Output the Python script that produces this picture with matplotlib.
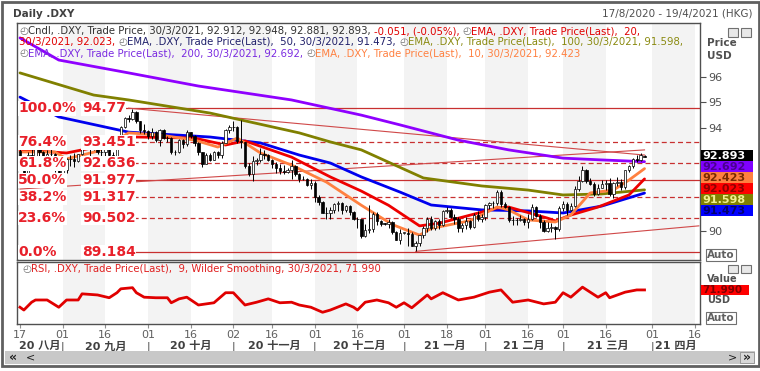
import numpy as np
import pandas as pd
import matplotlib
matplotlib.use("Agg")
import matplotlib.pyplot as plt
from matplotlib.patches import Rectangle
from matplotlib.transforms import blended_transform_factory as btf

plt.rcParams['font.family'] = ['DejaVu Sans', 'Noto Sans CJK SC']

# ---------------- data ----------------
start_date, end_date = "2020-08-17", "2021-04-19"

opens = [93.10, 92.84, 92.25, 92.95, 92.80, 93.24, 93.06, 92.90, 93.00, 92.98, 92.37,
         92.14, 92.35, 92.80, 92.78, 92.72, 92.98, 93.42, 93.26, 93.35, 93.33, 93.05, 93.05, 93.17, 92.96, 92.93, 93.65, 94.03, 94.39, 94.35, 94.64, 94.28, 93.92,
         93.89, 93.69, 93.84, 93.54, 93.93, 93.63, 93.60, 93.05, 93.06, 93.53, 93.38, 93.83, 93.70, 93.43, 93.06, 92.60, 92.97, 92.77, 93.05, 92.94, 93.43, 93.92,
         94.04, 94.02, 93.50, 93.44, 92.52, 92.23, 92.72, 92.76, 93.00, 92.96, 92.76, 92.60, 92.43, 92.32, 92.29, 92.37, 92.51, 92.21, 92.01, 92.01, 91.79,
         91.87, 91.32, 91.11, 90.71, 90.70, 90.80, 91.06, 91.10, 90.80, 90.98, 90.73, 90.47, 90.45, 89.82, 90.02, 90.06, 90.67, 90.37, 90.29, 90.28, 90.34, 89.96, 89.66,
         89.94, 89.94, 89.88, 89.43, 89.53, 89.83, 90.10, 90.47, 90.11, 90.39, 90.24, 90.77, 90.80, 90.53, 90.47, 90.11, 90.23, 90.37, 90.14, 90.63, 90.45,
         90.55, 91.00, 91.07, 91.09, 91.52, 91.04, 90.94, 90.43, 90.43, 90.43, 90.47, 90.34, 90.48, 90.93, 90.59, 90.36, 90.01, 90.13, 90.17, 90.06,
         90.88, 91.06, 90.81, 90.97, 91.64, 91.94, 92.35, 91.95, 91.82, 91.44, 91.67, 91.84, 91.86, 91.43, 91.86, 91.92, 91.69, 92.35, 92.52, 92.81, 92.77, 92.912]
highs = [93.20, 92.91, 93.05, 93.17, 93.36, 93.25, 93.12, 93.14, 93.33, 93.03, 92.43,
         92.43, 92.85, 92.95, 93.03, 93.00, 93.45, 93.50, 93.44, 93.42, 93.38, 93.25, 93.19, 93.36, 93.07, 93.74, 94.08, 94.44, 94.51, 94.74, 94.66, 94.28, 94.16,
         93.93, 94.01, 93.87, 93.95, 93.98, 93.70, 93.66, 93.16, 93.59, 93.56, 93.93, 93.86, 93.74, 93.47, 93.07, 93.02, 93.02, 93.10, 93.12, 93.50, 93.98, 94.13,
         94.26, 94.07, 94.30, 93.47, 92.65, 92.93, 92.84, 93.21, 93.13, 93.00, 92.81, 92.67, 92.62, 92.57, 92.45, 92.74, 92.58, 92.26, 92.12, 92.06, 92.02,
         91.95, 91.41, 91.16, 90.95, 90.94, 91.09, 91.16, 91.13, 91.02, 91.02, 90.79, 90.53, 90.45, 90.28, 91.01, 90.73, 90.73, 90.44, 90.31, 90.46, 90.38, 90.00, 90.06,
         89.96, 90.10, 89.97, 89.62, 89.85, 90.18, 90.56, 90.59, 90.43, 90.45, 90.83, 90.95, 90.89, 90.65, 90.55, 90.30, 90.56, 90.44, 90.70, 90.77, 90.65,
         91.05, 91.13, 91.16, 91.60, 91.60, 91.11, 90.96, 90.58, 90.49, 90.62, 90.51, 90.65, 91.05, 90.98, 90.65, 90.41, 90.34, 90.33, 90.19, 90.99,
         91.15, 91.12, 91.07, 91.73, 92.14, 92.51, 92.41, 92.06, 91.91, 91.84, 91.98, 91.97, 92.07, 91.91, 92.10, 92.03, 92.37, 92.56, 92.84, 92.94, 93.02, 92.948]
lows = [92.77, 92.13, 92.15, 92.52, 92.53, 92.85, 92.72, 92.68, 92.49, 92.29, 92.05,
        91.75, 92.25, 92.54, 92.48, 92.68, 92.95, 93.18, 92.84, 93.13, 92.99, 92.90, 92.70, 92.80, 92.72, 92.79, 93.57, 94.00, 94.22, 94.33, 94.20, 93.79, 93.78,
        93.56, 93.58, 93.47, 93.30, 93.58, 93.46, 92.99, 92.97, 93.01, 93.23, 93.29, 93.60, 93.31, 92.96, 92.47, 92.59, 92.70, 92.77, 92.85, 92.85, 93.41, 93.80,
        93.90, 93.42, 93.24, 92.44, 92.13, 91.96, 92.56, 92.69, 92.81, 92.70, 92.43, 92.26, 92.20, 92.22, 92.26, 92.01, 92.13, 91.92, 91.98, 91.76, 91.62,
        91.12, 91.00, 90.69, 90.48, 90.48, 90.68, 90.79, 90.66, 90.73, 90.62, 90.42, 90.11, 89.72, 89.78, 89.92, 89.95, 90.22, 90.21, 90.25, 90.13, 89.88, 89.64, 89.51,
        89.90, 89.42, 89.40, 89.21, 89.41, 89.73, 89.96, 90.02, 90.03, 90.06, 90.21, 90.68, 90.50, 90.27, 89.96, 89.97, 90.08, 90.06, 90.11, 90.40, 90.34,
        90.42, 90.86, 90.88, 91.02, 90.92, 90.88, 90.36, 90.25, 90.25, 90.39, 90.24, 90.12, 90.44, 90.53, 90.13, 89.98, 89.96, 89.98, 89.68, 89.99,
        90.79, 90.63, 90.78, 90.92, 91.54, 91.90, 91.88, 91.77, 91.36, 91.38, 91.66, 91.61, 91.35, 91.30, 91.74, 91.60, 91.64, 92.28, 92.46, 92.69, 92.71, 92.881]
closes = [92.84, 92.25, 92.95, 92.80, 93.24, 93.06, 92.90, 93.00, 92.98, 92.37, 92.14,
          92.35, 92.80, 92.78, 92.72, 92.98, 93.42, 93.26, 93.35, 93.33, 93.05, 93.05, 93.17, 92.96, 92.93, 93.65, 94.03, 94.39, 94.35, 94.64, 94.28, 93.92, 93.89,
          93.69, 93.84, 93.54, 93.93, 93.63, 93.60, 93.05, 93.06, 93.53, 93.38, 93.83, 93.70, 93.43, 93.06, 92.60, 92.97, 92.77, 93.05, 92.94, 93.43, 93.92, 94.04,
          94.02, 93.50, 93.44, 92.52, 92.23, 92.72, 92.76, 93.00, 92.96, 92.76, 92.60, 92.43, 92.32, 92.29, 92.37, 92.51, 92.21, 92.01, 92.01, 91.79, 91.87,
          91.32, 91.11, 90.71, 90.70, 90.80, 91.06, 91.10, 90.80, 90.98, 90.73, 90.47, 90.45, 89.82, 90.02, 90.06, 90.67, 90.37, 90.29, 90.28, 90.34, 89.96, 89.66, 89.94,
          89.94, 89.88, 89.43, 89.53, 89.83, 90.10, 90.47, 90.11, 90.39, 90.24, 90.77, 90.80, 90.53, 90.47, 90.11, 90.23, 90.37, 90.14, 90.63, 90.45, 90.55,
          91.00, 91.07, 91.09, 91.52, 91.04, 90.94, 90.43, 90.43, 90.43, 90.47, 90.34, 90.48, 90.93, 90.59, 90.36, 90.01, 90.13, 90.17, 90.06, 90.88,
          91.06, 90.81, 90.97, 91.64, 91.94, 92.35, 91.95, 91.82, 91.44, 91.67, 91.84, 91.86, 91.43, 91.86, 91.92, 91.69, 92.35, 92.52, 92.81, 92.77, 92.944, 92.893]

# EMA curves (trading-day number, value)
ema10_day = [0, 9, 12, 20, 28, 36, 45, 51, 56, 62, 70, 79, 88, 96, 103, 106, 116, 123, 126, 131, 138, 142, 147, 153, 157, 161]
ema10_val = [93.07, 93.07, 92.80, 93.10, 93.81, 93.73, 93.53, 93.26, 93.61, 93.03, 92.56, 91.90, 91.00, 90.25, 89.84,
             90.10, 90.40, 90.93, 90.82, 90.43, 90.35, 90.62, 91.48, 91.59, 91.98, 92.423]
ema20_day = [0, 12, 21, 30, 45, 53, 58, 70, 80, 88, 95, 103, 108, 123, 126, 136, 138, 142, 149, 157, 161]
ema20_val = [93.15, 93.03, 93.30, 93.65, 93.61, 93.34, 93.50, 92.87, 92.10, 91.55, 91.00, 90.20, 90.30,
             90.89, 90.93, 90.50, 90.39, 90.62, 90.93, 91.40, 92.023]
ema50_day = [0, 10, 28, 49, 62, 72, 80, 88, 98, 106, 119, 131, 140, 150, 161]
ema50_val = [95.20, 94.43, 93.84, 93.65, 93.42, 92.95, 92.64, 92.10, 91.51, 91.01, 90.82, 90.78, 90.70, 90.97, 91.473]
ema100_day = [0, 19, 28, 49, 72, 80, 88, 104, 119, 131, 140, 150, 161]
ema100_val = [96.14, 95.28, 95.09, 94.58, 93.81, 93.46, 93.15, 92.06, 91.75, 91.59, 91.40, 91.44, 91.598]
ema200_day = [0, 10, 28, 46, 70, 88, 98, 113, 126, 140, 150, 161]
ema200_val = [97.50, 96.64, 96.14, 95.63, 95.09, 94.50, 94.12, 93.53, 93.15, 92.83, 92.76, 92.692]

rsi_day = [0, 1, 3, 4, 7, 10, 12, 15, 16, 20, 23, 25, 26, 29, 30, 32, 35, 38, 39, 41, 43, 46, 50, 53, 55, 58,
           61, 64, 67, 70, 72, 75, 78, 80, 84, 86, 87, 89, 92, 95, 97, 99, 101, 105, 106, 109, 113, 117, 121,
           124, 127, 131, 135, 138, 140, 142, 145, 149, 151, 152, 154, 156, 159, 161]
rsi_val = [41, 36, 50, 54, 54, 41, 54, 54, 65, 63, 58, 67, 74, 76, 67, 59, 58, 58, 49, 56, 59, 45, 49, 67, 67, 45,
           50, 56, 49, 50, 45, 41, 32, 36, 47, 41, 36, 50, 54, 49, 41, 49, 40, 63, 56, 67, 54, 59, 68,
           72, 50, 54, 47, 50, 67, 59, 77, 59, 67, 58, 63, 68, 72, 71.99]

fib_pct = ["100.0%", "76.4%", "61.8%", "50.0%", "38.2%", "23.6%", "0.0%"]
fib_txt = ["94.77", "93.451", "92.636", "91.977", "91.317", "90.502", "89.184"]
fib_val = [94.77, 93.451, 92.636, 91.977, 91.317, 90.502, 89.184]
fib_dashed = [False, True, True, False, True, True, False]
fib_start = "2020-09-23"

trend_dates = [("2020-09-24", "2021-03-30"), ("2020-08-17", "2021-03-30"), ("2021-01-06", "2021-04-19")]
trend_vals = [(94.77, 92.95), (91.63, 93.15), (89.21, 90.20)]

tick_dates = ["2020-08-17", "2020-09-01", "2020-09-16", "2020-10-01", "2020-10-16", "2020-11-02", "2020-11-16",
              "2020-12-01", "2020-12-16", "2021-01-01", "2021-01-18", "2021-02-01", "2021-02-16", "2021-03-01",
              "2021-03-16", "2021-04-01", "2021-04-16"]
tick_labels = ["17", "01", "16", "01", "16", "02", "16", "01", "16", "01", "18", "01", "16", "01", "16", "01", "16"]
month_starts = ["2020-09-01", "2020-10-01", "2020-11-02", "2020-12-01", "2021-01-01", "2021-02-01", "2021-03-01", "2021-04-01"]
month_labels = ["20 八月", "20 九月", "20 十月", "20 十一月", "20 十二月", "21 一月", "21 二月", "21 三月", "21 四月"]

price_ticks = [90, 94, 95, 96]
last_labels = ["92.893", "92.692", "92.423", "92.023", "91.598", "91.473"]
last_vals = [92.893, 92.692, 92.423, 92.023, 91.598, 91.473]
last_bg = ["#000000", "#8000ff", "#ff8040", "#ff0000", "#808000", "#0000ff"]
last_fg = ["#ffffff", "#4a0090", "#7a2a00", "#900000", "#f0f090", "#000070"]

# ---------------- layout ----------------
W, H = 760, 371
fig = plt.figure(figsize=(W / 100, H / 100), dpi=100)
fig.patch.set_facecolor('white')


def fx(x):
    return x / W


def fy(y):
    return 1 - y / H


def fa(l, t, r, b):
    return [l / W, 1 - b / H, (r - l) / W, (b - t) / H]


def prect(x0, y0, x1, y1, **kw):
    fig.add_artist(Rectangle((fx(x0), fy(y1)), (x1 - x0) / W, (y1 - y0) / H,
                             transform=fig.transFigure, **kw))


def ptext(x, y, s, **kw):
    return fig.text(fx(x), fy(y), s, **kw)


days = pd.bdate_range(start_date, end_date)


def di(s):
    return days.get_loc(pd.Timestamp(s))


XL = (-0.77, 175.3)
ax = fig.add_axes(fa(17, 23, 700, 260))
axr = fig.add_axes(fa(17, 262, 700, 324))
for a in (ax, axr):
    a.set_xlim(*XL)
    a.set_facecolor('white')
    for s in a.spines.values():
        s.set_color('#505050')
        s.set_linewidth(1.0)
ax.set_ylim(88.874, 98.078)
axr.set_ylim(11, 122)

# shaded half-month bands
tick_idx = [di(d) for d in tick_dates]
for k in range(1, len(tick_idx) - 1, 2):
    for a in (ax, axr):
        a.axvspan(tick_idx[k], tick_idx[k + 1], color='#f3f3f3', lw=0, zorder=0)

# fib lines
xs0 = di(fib_start)
for v, dsh in zip(fib_val, fib_dashed):
    ax.plot([xs0, XL[1]], [v, v], color='#c83030', lw=0.9,
            ls=(0, (4, 2.5)) if dsh else '-', zorder=2)

# trendlines
for (d0, d1), (v0, v1) in zip(trend_dates, trend_vals):
    ax.plot([di(d0), di(d1)], [v0, v1], color='#d04848', lw=0.8, zorder=2)

# EMAs
for dd, vv, col in [(ema200_day, ema200_val, '#8f00ff'), (ema100_day, ema100_val, '#808000'),
                    (ema50_day, ema50_val, '#0000ee'), (ema20_day, ema20_val, '#ee0000'),
                    (ema10_day, ema10_val, '#ff8040')]:
    ax.plot(dd, vv, color=col, lw=2.0, zorder=3, solid_capstyle='round', solid_joinstyle='round')

# candles
o = np.array(opens); h = np.array(highs); l = np.array(lows); c = np.array(closes)
xi = np.arange(len(c))
ax.vlines(xi, l, h, color='black', lw=0.7, zorder=4)
body = np.maximum(np.abs(c - o), 0.015)
up = c >= o
ax.bar(xi, body, bottom=np.minimum(o, c), width=0.62,
       color=np.where(up, 'white', 'black'), edgecolor='black', lw=0.5, zorder=5)

# fib labels
tb = btf(ax.transAxes, ax.transData)
for p, t, v in zip(fib_pct, fib_txt, fib_val):
    ax.text(0.0015, v, p, transform=tb, color='#e8202a', fontsize=10, fontweight='bold',
            va='center', ha='left', zorder=8, bbox=dict(fc='white', ec='none', pad=0.3))
    ax.text(0.095, v, t, transform=tb, color='#e8202a', fontsize=10,
            fontweight='bold', va='center', ha='left', zorder=8, bbox=dict(fc='white', ec='none', pad=0.3))

# y axis (price) on the right
ax.yaxis.tick_right()
ax.set_yticks(price_ticks)
ax.set_yticklabels([str(t) for t in price_ticks])
ax.tick_params(axis='y', direction='out', length=4, pad=2, labelsize=8, labelcolor='#505050', color='#505050')
ax.tick_params(axis='x', bottom=False, labelbottom=False)
axr.set_yticks([])
axr.set_xticks(tick_idx)
axr.set_xticklabels(tick_labels)
axr.tick_params(axis='x', length=3, color='#909090', labelsize=8, labelcolor='#606060', pad=1)

# RSI
axr.plot(rsi_day, rsi_val, color='#e00000', lw=2.0, zorder=3, solid_joinstyle='round')

# month labels
ms = [XL[0]] + [di(d) for d in month_starts] + [XL[1]]
tbr = btf(axr.transData, axr.transAxes)
for k, lab in enumerate(month_labels):
    axr.text((ms[k] + ms[k + 1]) / 2, -0.36, lab, transform=tbr, ha='center', va='center',
             fontsize=8, fontweight='bold', color='#404040', clip_on=False)
for m in ms[1:-1]:
    axr.text(m, -0.36, "|", transform=tbr, ha='center', va='center', fontsize=8, color='#404040', clip_on=False)

fig.canvas.draw()
rend = fig.canvas.get_renderer()


def ypix(a, v):
    return H - a.transData.transform((0, v))[1]


# last value boxes
y0 = ypix(ax, last_vals[0])
for k, (lab, bg, fg) in enumerate(zip(last_labels, last_bg, last_fg)):
    yc = y0 - 1 + k * 11
    prect(701, yc - 5.5, 753, yc + 5.5, fc=bg, ec='none', zorder=10)
    ptext(702, yc, lab, color=fg, fontsize=8, fontweight='bold', va='center', ha='left', zorder=11)

ptext(707, 43, "Price", fontsize=7.5, fontweight='bold', color='#505050', va='center')
ptext(707, 56, "USD", fontsize=7.5, fontweight='bold', color='#505050', va='center')
ptext(707, 255, "Auto", fontsize=7.5, fontweight='bold', color='#606060', va='center',
      bbox=dict(fc='white', ec='#707070', pad=0.8, lw=0.8))
for xx in (728, 741):
    prect(xx, 28, xx + 10, 37, fc='#e8e8e8', ec='#707070', lw=0.8)
    prect(xx, 265, xx + 10, 273, fc='#e8e8e8', ec='#707070', lw=0.8)

# RSI axis labels
yr = ypix(axr, rsi_val[-1])
ptext(707, yr - 10.5, "Value", fontsize=7, fontweight='bold', color='#505050', va='center')
ptext(707, yr + 10.5, "USD", fontsize=7, fontweight='bold', color='#505050', va='center')
prect(701, yr - 5, 749, yr + 5, fc='#ff0000', ec='none', zorder=10)
ptext(702, yr, "71.990", color='#800000', fontsize=7.5, fontweight='bold', va='center', zorder=11)
ptext(707, 318, "Auto", fontsize=7.5, fontweight='bold', color='#606060', va='center',
      bbox=dict(fc='white', ec='#707070', pad=0.8, lw=0.8))

# title & date range
ptext(13, 14, "Daily .DXY", fontsize=7.5, fontweight='bold', color='#404040', va='center')
ptext(752, 14, "17/8/2020 - 19/4/2021 (HKG)", fontsize=7.5, color='#505050', va='center', ha='right')


def row(x, y, parts, fs=7.3):
    for s, col in parts:
        t = ptext(x, y, s, color=col, fontsize=fs, va='center', ha='left', zorder=12)
        x += t.get_window_extent(renderer=rend).width


ICON = "\u25F4"
row(19, 31, [(ICON, '#707070'), ("Cndl, .DXY, Trade Price, 30/3/2021, 92.912, 92.948, 92.881, 92.893, ", '#303030'),
             ("-0.051, (-0.05%), ", '#e00000'), (ICON, '#707070'),
             ("EMA, .DXY, Trade Price(Last),  20,", '#e00000')])
row(19, 42, [("30/3/2021, 92.023, ", '#e00000'), (ICON, '#707070'),
             ("EMA, .DXY, Trade Price(Last),  50, 30/3/2021, 91.473, ", '#20206a'), (ICON, '#707070'),
             ("EMA, .DXY, Trade Price(Last),  100, 30/3/2021, 91.598,", '#8a8a10')])
row(19, 53, [(ICON, '#707070'), ("EMA, .DXY, Trade Price(Last),  200, 30/3/2021, 92.692, ", '#7a2ae0'),
             (ICON, '#707070'), ("EMA, .DXY, Trade Price(Last),  10, 30/3/2021, 92.423", '#ff8040')])
row(22, 269, [(ICON, '#707070'), ("RSI, .DXY, Trade Price(Last),  9, Wilder Smoothing, 30/3/2021, 71.990", '#e02020')])

# scrollbar and frame
prect(5, 351, 755, 364, fc='#c8c8c8', ec='none')
prect(740, 352, 754, 363, fc='#d8d8d8', ec='#909090', lw=0.6)
ptext(9, 357.5, "«", fontsize=9, fontweight='bold', color='#202020', va='center')
ptext(26, 357.5, "<", fontsize=8, color='#202020', va='center')
ptext(728, 357.5, ">", fontsize=8, color='#202020', va='center')
ptext(743, 357.5, "»", fontsize=9, fontweight='bold', color='#202020', va='center')
prect(1.5, 1.5, 758.5, 366, fc='none', ec='#606060', lw=2.0)

fig.savefig("out.png", dpi=100, facecolor='white')
